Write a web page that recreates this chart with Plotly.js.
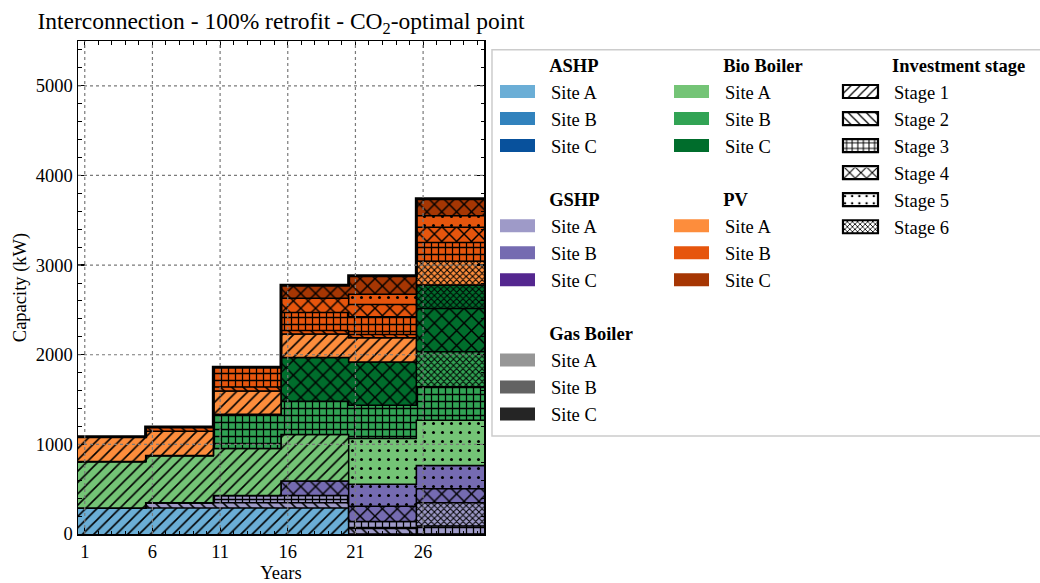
<!DOCTYPE html>
<html><head><meta charset="utf-8">
<script src="https://cdn.plot.ly/plotly-3.0.1.min.js"></script>
<style>html,body{margin:0;padding:0;background:#fff}#chart{width:1040px;height:583px}</style>
</head><body><div id="chart"></div>
<script>
// ---------- data ----------
const years = [1, 6, 11, 16, 21, 26];
const yTicks = [0, 1000, 2000, 3000, 4000, 5000];
const techs = ['ASHP', 'GSHP', 'Gas Boiler', 'Bio Boiler', 'PV'];
const sites = ['Site A', 'Site B', 'Site C'];
const stages = ['Stage 1', 'Stage 2', 'Stage 3', 'Stage 4', 'Stage 5', 'Stage 6'];

// capacity (kW) per 5-year period, one array per technology / site / investment stage
const ashpA_s1 = [290, 290, 290, 290, 0, 0];
const gshpA_s2 = [0, 60, 60, 60, 60, 0];
const gshpA_s3 = [0, 0, 80, 80, 80, 90];
const gshpA_s6 = [0, 0, 0, 0, 0, 260];
const gshpB_s4 = [0, 0, 0, 160, 170, 155];
const gshpB_s5 = [0, 0, 0, 0, 245, 260];
const bioA_s1 = [520, 525, 525, 520, 0, 0];
const bioA_s5 = [0, 0, 0, 0, 510, 505];
const bioB_s3 = [0, 0, 380, 370, 370, 372];
const bioB_s6 = [0, 0, 0, 0, 0, 390];
const bioC_s4 = [0, 0, 0, 490, 485, 484];
const bioC_s6 = [0, 0, 0, 0, 0, 262];
const pvA_s1 = [275, 270, 260, 260, 270, 0];
const pvA_s6 = [0, 0, 0, 0, 0, 265];
const pvB_s2 = [0, 50, 45, 40, 35, 0];
const pvB_s3 = [0, 0, 220, 200, 200, 210];
const pvB_s4 = [0, 0, 0, 160, 135, 168];
const pvB_s5 = [0, 0, 0, 0, 115, 130];
const pvC_s4 = [0, 0, 0, 145, 205, 190];

const series = [
  {tech: 'ASHP', site: 0, stage: 1, values: ashpA_s1},
  {tech: 'GSHP', site: 0, stage: 2, values: gshpA_s2},
  {tech: 'GSHP', site: 0, stage: 3, values: gshpA_s3},
  {tech: 'GSHP', site: 0, stage: 6, values: gshpA_s6},
  {tech: 'GSHP', site: 1, stage: 4, values: gshpB_s4},
  {tech: 'GSHP', site: 1, stage: 5, values: gshpB_s5},
  {tech: 'Bio Boiler', site: 0, stage: 1, values: bioA_s1},
  {tech: 'Bio Boiler', site: 0, stage: 5, values: bioA_s5},
  {tech: 'Bio Boiler', site: 1, stage: 3, values: bioB_s3},
  {tech: 'Bio Boiler', site: 1, stage: 6, values: bioB_s6},
  {tech: 'Bio Boiler', site: 2, stage: 4, values: bioC_s4},
  {tech: 'Bio Boiler', site: 2, stage: 6, values: bioC_s6},
  {tech: 'PV', site: 0, stage: 1, values: pvA_s1},
  {tech: 'PV', site: 0, stage: 6, values: pvA_s6},
  {tech: 'PV', site: 1, stage: 2, values: pvB_s2},
  {tech: 'PV', site: 1, stage: 3, values: pvB_s3},
  {tech: 'PV', site: 1, stage: 4, values: pvB_s4},
  {tech: 'PV', site: 1, stage: 5, values: pvB_s5},
  {tech: 'PV', site: 2, stage: 4, values: pvC_s4}
];

// ---------- styles ----------
const colors = {
  'ASHP': ['#6baed6', '#3182bd', '#08519c'],
  'GSHP': ['#9e9ac8', '#756bb1', '#54278f'],
  'Gas Boiler': ['#969696', '#636363', '#252525'],
  'Bio Boiler': ['#74c476', '#31a354', '#006d2c'],
  'PV': ['#fd8d3c', '#e6550d', '#a63603']
};
const hatch = {
  1: {shape: '/', size: 8, solidity: 0.2},
  2: {shape: '\\', size: 8, solidity: 0.2},
  3: {shape: '+', size: 7, solidity: 0.33},
  4: {shape: 'x', size: 10.5, solidity: 0.25},
  5: {shape: '.', size: 9, solidity: 0.09},
  6: {shape: 'x', size: 4.5, solidity: 0.4}
};
const FONT = 'Liberation Serif, Times New Roman, serif';
const PERIOD = years[1] - years[0];

const xEdges = years.map(y => y - 0.5).concat([years[years.length - 1] + PERIOD - 0.5]);

const traces = [];
series.forEach((s, i) => {
  const col = colors[s.tech][s.site];
  const h = hatch[s.stage];
  traces.push({
    type: 'scatter', mode: 'lines', stackgroup: 'cap',
    x: xEdges, y: s.values.concat([s.values[s.values.length - 1]]),
    line: {shape: 'hv', color: '#000', width: i === series.length - 1 ? 3 : 1.5},
    fillcolor: col,
    fillpattern: {shape: h.shape, size: h.size, solidity: h.solidity, fillmode: 'overlay', bgcolor: col, fgcolor: '#000', fgopacity: 1},
    showlegend: false, hoverinfo: 'skip',
    name: s.tech + ' ' + sites[s.site] + ' ' + stages[s.stage - 1]
  });
});

// legend entries (empty traces)
const pad = '\u00a0'.repeat(13);
techs.forEach(t => {
  const lg = (t === 'Bio Boiler' || t === 'PV') ? 'legend2' : 'legend';
  sites.forEach((st, k) => {
    traces.push({
      type: 'bar', x: [null], y: [null], name: st, legend: lg,
      legendgroup: t, legendgrouptitle: {text: pad + '<b>' + t + '</b>', font: {family: FONT, size: 18.5, color: '#000'}},
      marker: {color: colors[t][k], line: {width: 0}}, showlegend: true, hoverinfo: 'skip'
    });
  });
});
stages.forEach((st, k) => {
  const h = hatch[k + 1];
  traces.push({
    type: 'bar', x: [null], y: [null], name: st, legend: 'legend3',
    legendgroup: 'stage', legendgrouptitle: {text: pad + '<b>Investment stage</b>', font: {family: FONT, size: 18.5, color: '#000'}},
    marker: {color: '#fff', line: {width: 2.2, color: '#000'},
      pattern: {shape: h.shape, size: h.size, solidity: h.solidity, fillmode: 'overlay', bgcolor: '#fff', fgcolor: '#000', fgopacity: 1}},
    showlegend: true, hoverinfo: 'skip'
  });
});

// grid lines drawn above the fills (derived from tick values)
const shapes = [];
years.forEach(v => shapes.push({type: 'line', xref: 'x', yref: 'paper', x0: v, x1: v, y0: 0, y1: 1, layer: 'above', line: {color: '#7a7a7a', width: 1.2, dash: 'dot'}}));
yTicks.slice(1).forEach(v => shapes.push({type: 'line', xref: 'paper', yref: 'y', x0: 0, x1: 1, y0: v, y1: v, layer: 'above', line: {color: '#7a7a7a', width: 1.2, dash: 'dot'}}));
// legend frame
shapes.push({type: 'rect', xref: 'paper', yref: 'paper', x0: 1.0197, x1: 2.40, y0: 0.199, y1: 0.982, line: {color: '#cccccc', width: 1.5}, fillcolor: 'rgba(0,0,0,0)', layer: 'above'});

const legendBase = {xanchor: 'left', yanchor: 'top', bgcolor: 'rgba(0,0,0,0)', borderwidth: 0,
  font: {family: FONT, size: 18.5, color: '#000'}, tracegroupgap: 26, itemwidth: 57, traceorder: 'grouped'};

const axisBase = {showline: true, linecolor: '#000', linewidth: 1.5, mirror: 'allticks', ticks: 'inside',
  ticklen: 7, tickwidth: 1.2, tickcolor: '#000', showgrid: false, zeroline: false,
  tickfont: {family: FONT, size: 18.5, color: '#000'}};

const layout = {
  width: 1040, height: 583,
  margin: {l: 78, r: 556, t: 41, b: 49, autoexpand: false},
  paper_bgcolor: '#fff', plot_bgcolor: '#fff',
  title: {text: 'Interconnection - 100% retrofit - CO<sub>2</sub>-optimal point', xref: 'paper', x: 0.5, xanchor: 'center',
    yref: 'container', y: 0.965, yanchor: 'middle', font: {family: FONT, size: 23.5, color: '#000'}},
  xaxis: Object.assign({}, axisBase, {range: [xEdges[0], xEdges[xEdges.length - 1]], tickmode: 'array', tickvals: years, ticktext: years.map(String),
    minor: {ticks: 'inside', ticklen: 3.5, tick0: years[0], dtick: 1, tickcolor: '#000', tickwidth: 1, showgrid: false},
    title: {text: 'Years', font: {family: FONT, size: 18.5, color: '#000'}, standoff: 6}}),
  yaxis: Object.assign({}, axisBase, {range: [0, 5500], tickmode: 'array', tickvals: yTicks, ticktext: yTicks.map(String),
    minor: {ticks: 'inside', ticklen: 3.5, tick0: 0, dtick: 200, tickcolor: '#000', tickwidth: 1, showgrid: false},
    title: {text: 'Capacity (kW)', font: {family: FONT, size: 18.5, color: '#000'}, standoff: 4}}),
  showlegend: true,
  legend: Object.assign({}, legendBase, {x: 1.0, y: 0.99}),
  legend2: Object.assign({}, legendBase, {x: 1.4286, y: 0.99}),
  legend3: Object.assign({}, legendBase, {x: 1.8448, y: 0.99}),
  shapes: shapes
};

Plotly.newPlot('chart', traces, layout, {staticPlot: true, displayModeBar: false}).then(gd => {
  gd.querySelectorAll('.legendpoints path').forEach(p => {
    p.setAttribute('transform', 'translate(0,0)');
    p.setAttribute('d', 'M16,-6.5h35v13h-35Z');
  });
});
</script></body></html>
